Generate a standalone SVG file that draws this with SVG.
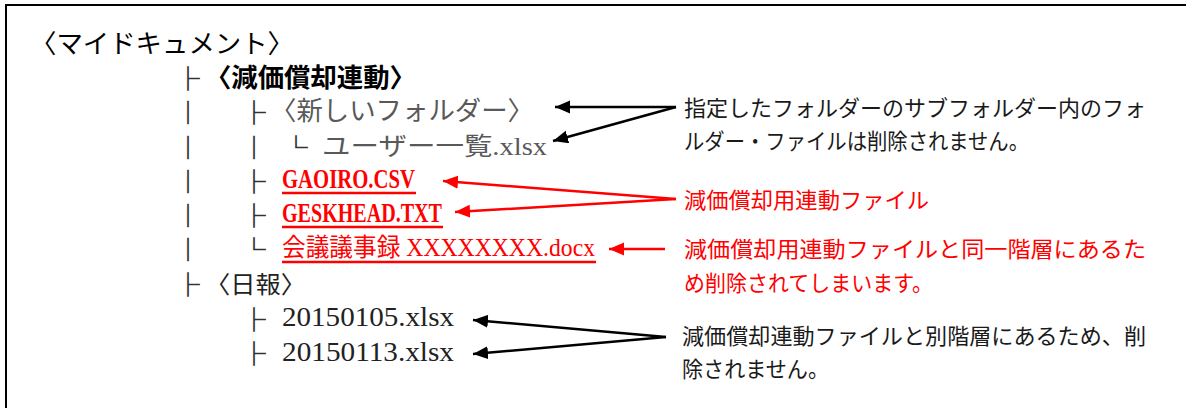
<svg xmlns="http://www.w3.org/2000/svg" width="1186" height="408" viewBox="0 0 1186 408">
<defs>
<style>
.cjk{font-family:"Noto Sans CJK JP","Noto Sans CJK SC",sans-serif;}
.mix{font-family:"Liberation Serif","Noto Sans CJK JP",serif;}
.tree{font-family:"Noto Sans CJK JP",sans-serif;font-size:23px;fill:#333;stroke:#333;stroke-width:0.7;text-anchor:middle;}
.t26{font-size:26px;}
.t25{font-size:25px;}
.lat{font-size:28px;}
.note{font-family:"Noto Sans CJK JP",sans-serif;font-size:22px;}
.blk{fill:#1a1a1a;}
.red{fill:#ff0000;}
.gry{fill:#595959;}
.ul{stroke:#ff0000;stroke-width:2.5;}
.arB{stroke:#000;stroke-width:2.5;fill:none;marker-end:url(#hB);}
.arR{stroke:#ff0000;stroke-width:2.5;fill:none;marker-end:url(#hR);}
</style>
<marker id="hB" markerUnits="userSpaceOnUse" markerWidth="16" markerHeight="14" refX="15" refY="6.5" orient="auto"><path d="M0,0 L15,6.5 L0,13 z" fill="#000"/></marker>
<marker id="hR" markerUnits="userSpaceOnUse" markerWidth="16" markerHeight="14" refX="15" refY="6.5" orient="auto"><path d="M0,0 L15,6.5 L0,13 z" fill="#ff0000"/></marker>
</defs>
<rect width="1186" height="408" fill="#fff"/>
<path d="M6,408 V5 H1186" stroke="#000" stroke-width="2" fill="none"/>

<g id="tree-lines">
<text class="tree"><tspan x="188" y="87">├</tspan><tspan x="188" y="121">│</tspan><tspan x="188" y="155.5">│</tspan><tspan x="188" y="190">│</tspan><tspan x="188" y="224">│</tspan><tspan x="188" y="258">│</tspan><tspan x="188" y="293">├</tspan></text>
<text class="tree"><tspan x="254" y="121">├</tspan><tspan x="254" y="155.5">│</tspan><tspan x="254" y="190">├</tspan><tspan x="254" y="224">├</tspan><tspan x="254" y="258">└</tspan><tspan x="254" y="328">├</tspan><tspan x="254" y="362">├</tspan></text>
<text class="tree" x="296" y="155.5">└</text>
</g>

<g id="root">
<text class="cjk t26" x="30" y="53" fill="#000" textLength="264" lengthAdjust="spacingAndGlyphs">〈マイドキュメント〉</text>
</g>
<g id="genka-folder">
<text class="cjk t26" x="205" y="87" fill="#000" font-weight="bold" textLength="211" lengthAdjust="spacingAndGlyphs">〈減価償却連動〉</text>
</g>
<g id="new-folder">
<text class="cjk t26 gry" x="270" y="120" textLength="264" lengthAdjust="spacingAndGlyphs">〈新しいフォルダー〉</text>
</g>
<g id="user-list">
<text class="mix t25 gry" x="322" y="155" textLength="225" lengthAdjust="spacingAndGlyphs">ユーザー一覧.xlsx</text>
</g>
<g id="gaoiro">
<text class="mix lat red" x="282" y="188" font-weight="bold" textLength="133" lengthAdjust="spacingAndGlyphs">GAOIRO.CSV</text>
<line class="ul" x1="282" y1="193" x2="416" y2="193"/>
</g>
<g id="geskhead">
<text class="mix lat red" x="282" y="222" font-weight="bold" textLength="160" lengthAdjust="spacingAndGlyphs">GESKHEAD.TXT</text>
<line class="ul" x1="282" y1="227" x2="443" y2="227"/>
</g>
<g id="minutes">
<text class="mix t25 red" x="282" y="256" textLength="313" lengthAdjust="spacingAndGlyphs">会議議事録 XXXXXXXX.docx</text>
<line class="ul" x1="282" y1="262" x2="596" y2="262"/>
</g>
<g id="nippo">
<text class="cjk" font-size="24" x="205" y="293" fill="#222" textLength="101" lengthAdjust="spacingAndGlyphs">〈日報〉</text>
</g>
<g id="file-0105">
<text class="mix lat" x="282" y="326" fill="#222" textLength="172" lengthAdjust="spacingAndGlyphs">20150105.xlsx</text>
</g>
<g id="file-0113">
<text class="mix lat" x="282" y="361" fill="#222" textLength="172" lengthAdjust="spacingAndGlyphs">20150113.xlsx</text>
</g>

<g id="note-subfolder">
<text class="note blk" x="684" y="116" textLength="462" lengthAdjust="spacingAndGlyphs">指定したフォルダーのサブフォルダー内のフォ</text>
<text class="note blk" x="684" y="149" textLength="345" lengthAdjust="spacingAndGlyphs">ルダー・ファイルは削除されません。</text>
</g>
<g id="note-link-files">
<text class="note red" x="684" y="208" textLength="245" lengthAdjust="spacingAndGlyphs">減価償却用連動ファイル</text>
</g>
<g id="note-same-level">
<text class="note red" x="684" y="257" textLength="462" lengthAdjust="spacingAndGlyphs">減価償却用連動ファイルと同一階層にあるた</text>
<text class="note red" x="684" y="291" textLength="249" lengthAdjust="spacingAndGlyphs">め削除されてしまいます。</text>
</g>
<g id="note-other-level">
<text class="note blk" x="682" y="344" textLength="464" lengthAdjust="spacingAndGlyphs">減価償却連動ファイルと別階層にあるため、削</text>
<text class="note blk" x="682" y="377" textLength="147" lengthAdjust="spacingAndGlyphs">除されません。</text>
</g>

<g id="connectors">
<path class="arB" d="M676,107 L555,107"/>
<path class="arB" d="M676,107 L553,141"/>
<path class="arR" d="M676,199 L443,181"/>
<path class="arR" d="M676,199 L455,212"/>
<path class="arR" d="M665,249 L609,249"/>
<path class="arB" d="M666,337 L473,320"/>
<path class="arB" d="M666,337 L473,354"/>
</g>
</svg>
